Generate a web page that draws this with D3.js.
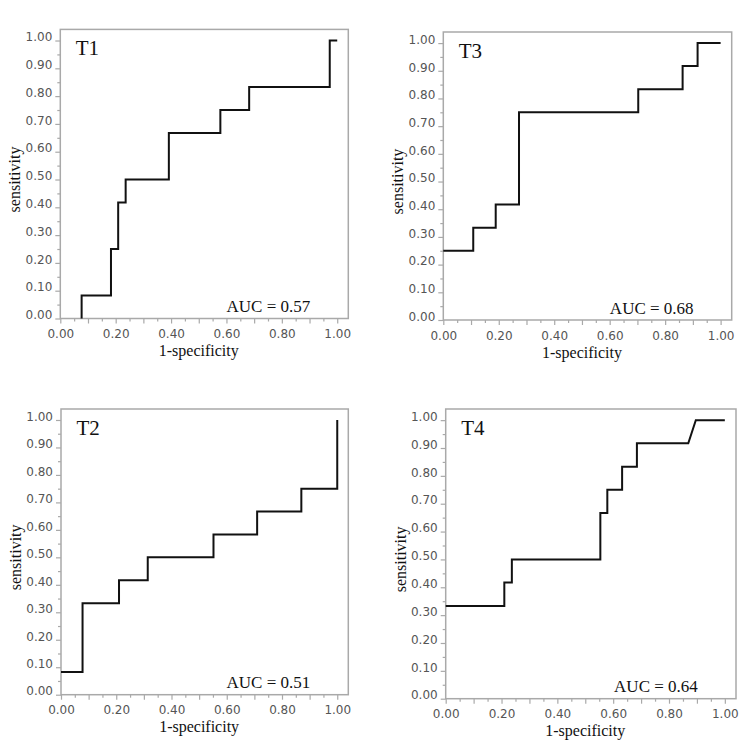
<!DOCTYPE html>
<html>
<head>
<meta charset="utf-8">
<script src="https://cdn.jsdelivr.net/npm/d3@7"></script>
<style>
  html, body { margin: 0; padding: 0; background: #fff; }
  svg { display: block; }
</style>
</head>
<body>
<svg id="chart" width="750" height="754"></svg>
<script>
// ---- data (ROC step curves) ----
const panelNames = ["T1", "T3", "T2", "T4"];
const aucLabels = ["AUC = 0.57", "AUC = 0.68", "AUC = 0.51", "AUC = 0.64"];

const t1X = [0.077, 0.077, 0.183, 0.183, 0.209, 0.209, 0.236, 0.236, 0.392, 0.392, 0.578, 0.578, 0.682, 0.682, 0.973, 0.973, 1.0];
const t1Y = [0.0, 0.083, 0.083, 0.25, 0.25, 0.417, 0.417, 0.5, 0.5, 0.667, 0.667, 0.75, 0.75, 0.833, 0.833, 1.0, 1.0];

const t3X = [0.0, 0.108, 0.108, 0.189, 0.189, 0.273, 0.273, 0.703, 0.703, 0.863, 0.863, 0.917, 0.917, 1.0];
const t3Y = [0.25, 0.25, 0.333, 0.333, 0.417, 0.417, 0.75, 0.75, 0.833, 0.833, 0.917, 0.917, 1.0, 1.0];

const t2X = [0.0, 0.078, 0.078, 0.21, 0.21, 0.314, 0.314, 0.552, 0.552, 0.71, 0.71, 0.87, 0.87, 1.0, 1.0];
const t2Y = [0.083, 0.083, 0.333, 0.333, 0.417, 0.417, 0.5, 0.5, 0.583, 0.583, 0.667, 0.667, 0.75, 0.75, 1.0];

const t4X = [0.0, 0.21, 0.21, 0.237, 0.237, 0.554, 0.554, 0.579, 0.579, 0.632, 0.632, 0.685, 0.685, 0.869, 0.896, 1.0];
const t4Y = [0.333, 0.333, 0.417, 0.417, 0.5, 0.5, 0.667, 0.667, 0.75, 0.75, 0.833, 0.833, 0.917, 0.917, 1.0, 1.0];

const seriesX = [t1X, t3X, t2X, t4X];
const seriesY = [t1Y, t3Y, t2Y, t4Y];

const tickValues = [0, 0.1, 0.2, 0.3, 0.4, 0.5, 0.6, 0.7, 0.8, 0.9, 1.0];
const xTickLabelValues = [0, 0.2, 0.4, 0.6, 0.8, 1.0];
const minorTickValues = [0.05, 0.15, 0.25, 0.35, 0.45, 0.55, 0.65, 0.75, 0.85, 0.95];
const xTitle = "1-specificity";
const yTitle = "sensitivity";

// ---- layout (frame boxes of each panel) ----
const frames = [
  { left: 60.3, right: 348.3, top: 29.4, bottom: 318.5 },
  { left: 443.3, right: 731.7, top: 32.0, bottom: 320.0 },
  { left: 61.0, right: 348.3, top: 409.0, bottom: 694.7 },
  { left: 445.7, right: 736.0, top: 409.0, bottom: 698.7 }
];
const domainMax = 1.04;

const svg = d3.select("#chart");
const fmt = d3.format(".2f");
const serif = "'Liberation Serif', 'Times New Roman', serif";
const sans = "'DejaVu Sans', Verdana, sans-serif";
const gridGray = "#a9a9a9";
const labelGray = "#555";

frames.forEach((f, i) => {
  const x = d3.scaleLinear().domain([0, domainMax]).range([f.left, f.right]);
  const y = d3.scaleLinear().domain([0, domainMax]).range([f.bottom, f.top]);
  const g = svg.append("g");

  // frame
  g.append("rect")
    .attr("x", x(0)).attr("y", y(domainMax))
    .attr("width", x(domainMax) - x(0)).attr("height", y(0) - y(domainMax))
    .attr("fill", "none").attr("stroke", gridGray).attr("stroke-width", 1.5);

  // x axis
  const xAxis = g.append("g").attr("transform", `translate(0,${y(0)})`)
    .call(d3.axisBottom(x).tickValues(tickValues).tickSize(5).tickPadding(6)
      .tickFormat(d => xTickLabelValues.some(v => Math.abs(v - d) < 1e-9) ? fmt(d) : ""));
  xAxis.select(".domain").remove();
  xAxis.selectAll(".tick line").attr("stroke", gridGray).attr("stroke-width", 1.2);
  xAxis.selectAll(".tick text").attr("fill", labelGray)
    .style("font-family", sans).style("font-size", "12px");
  const xMinor = g.append("g").attr("transform", `translate(0,${y(0)})`)
    .call(d3.axisBottom(x).tickValues(minorTickValues).tickSize(3).tickFormat(""));
  xMinor.select(".domain").remove();
  xMinor.selectAll(".tick line").attr("stroke", gridGray).attr("stroke-width", 1.2);

  // y axis
  const yAxis = g.append("g").attr("transform", `translate(${x(0)},0)`)
    .call(d3.axisLeft(y).tickValues(tickValues).tickSize(5).tickPadding(3).tickFormat(fmt));
  yAxis.select(".domain").remove();
  yAxis.selectAll(".tick line").attr("stroke", gridGray).attr("stroke-width", 1.2);
  yAxis.selectAll(".tick text").attr("fill", labelGray).attr("dy", "0.02em")
    .style("font-family", sans).style("font-size", "12px");
  const yMinor = g.append("g").attr("transform", `translate(${x(0)},0)`)
    .call(d3.axisLeft(y).tickValues(minorTickValues).tickSize(3).tickFormat(""));
  yMinor.select(".domain").remove();
  yMinor.selectAll(".tick line").attr("stroke", gridGray).attr("stroke-width", 1.2);

  // curve
  const pts = seriesX[i].map((v, k) => [v, seriesY[i][k]]);
  g.append("path")
    .datum(pts)
    .attr("d", d3.line().x(d => x(d[0])).y(d => y(d[1])))
    .attr("fill", "none").attr("stroke", "#111").attr("stroke-width", 2)
    .attr("stroke-linejoin", "miter");

  // panel name
  g.append("text")
    .attr("x", f.left + 15.5).attr("y", f.top + 25.5)
    .style("font-family", serif).style("font-size", "21px").attr("fill", "#111")
    .text(panelNames[i]);

  // AUC
  g.append("text")
    .attr("x", x(1) - 27).attr("y", y(0) - 6.5)
    .attr("text-anchor", "end")
    .style("font-family", serif).style("font-size", "17px").attr("fill", "#111")
    .text(aucLabels[i]);

  // x title
  g.append("text")
    .attr("x", x(0.5)).attr("y", y(0) + 37.5)
    .attr("text-anchor", "middle")
    .style("font-family", serif).style("font-size", "16px").attr("fill", "#111")
    .text(xTitle);

  // y title
  g.append("text")
    .attr("transform", `translate(${x(0) - 40},${y(0.5)}) rotate(-90)`)
    .attr("text-anchor", "middle")
    .style("font-family", serif).style("font-size", "16px").attr("fill", "#111")
    .text(yTitle);
});
</script>
</body>
</html>
